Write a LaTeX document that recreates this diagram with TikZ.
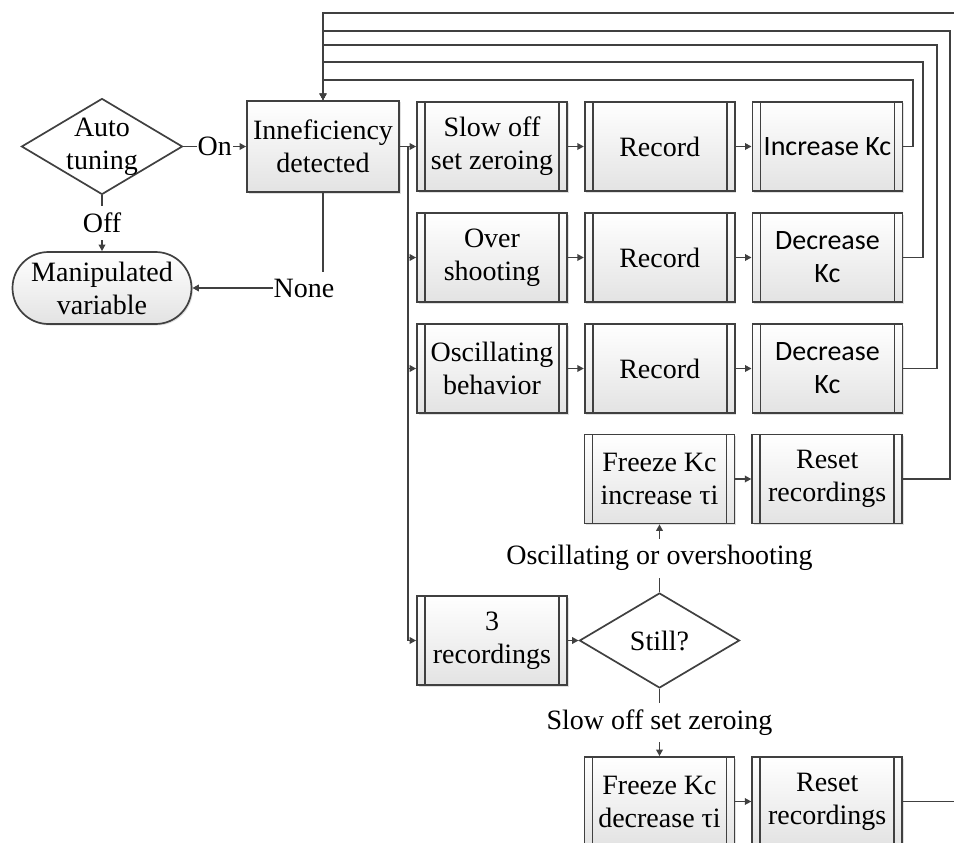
\documentclass[tikz,border=0pt]{standalone}
\usepackage{fontspec}
\setmainfont{Liberation Serif}
\newfontfamily\calibri{Carlito}
\usepackage{tikz}
\usetikzlibrary{arrows.meta}
\usetikzlibrary{positioning}
\usetikzlibrary{shapes.geometric}
\usetikzlibrary{shadows}
\definecolor{linegray}{HTML}{404040}
\colorlet{boxshade}{black!11}
\newcommand\bigfont{\fontsize{28pt}{33pt}\selectfont}
\tikzstyle{flowhead}=[>/.tip={Triangle[length=6.5pt,width=6.5pt]}]
\tikzstyle{flow}=[line width=1.7pt,draw=linegray,flowhead,->]
\tikzstyle{tag}=[fill=white,inner xsep=1pt,inner ysep=7pt]
\tikzstyle{plainbox}=[rectangle,draw=linegray,line width=1.7pt,top color=white,bottom color=boxshade,align=center,inner sep=0pt,
  drop shadow={shadow xshift=1.5pt,shadow yshift=-1.5pt,opacity=.2,fill=black!60}]
\tikzstyle{procbox}=[plainbox,minimum width=150pt,minimum height=89pt,
  path picture={\draw[line width=1.7pt,linegray]
    ([xshift=8pt]path picture bounding box.north west) -- ([xshift=8pt]path picture bounding box.south west)
    ([xshift=-8pt]path picture bounding box.north east) -- ([xshift=-8pt]path picture bounding box.south east);}]
\tikzstyle{kcbox}=[procbox,font=\calibri\bigfont]
\tikzstyle{decision}=[diamond,draw=linegray,line width=1.7pt,fill=white,inner sep=0pt]

\begin{document}
\begin{tikzpicture}[x=1pt,y=-1pt,font=\bigfont]
	\useasboundingbox (0,0) rectangle (954,843);
	\clip (0,0) rectangle (954,843);
	% left part
	\node[decision,minimum width=161pt,minimum height=96pt] (tune) at (102,146.5) {};
	\node[align=center] (tunetext) at (tune) {Auto\\tuning};
	\node[plainbox,minimum width=152pt,minimum height=91pt] (inn) at (323,146.5) {Inneficiency\\detected};
	\node[plainbox,rounded corners=36pt,minimum width=179pt,minimum height=72pt] (man) at (102,288) {Manipulated\\variable};
	% rows
	\node[procbox] (slow) at (492,146.5) {Slow off\\set zeroing};
	\node[procbox,right=16pt of slow] (rec1) {Record};
	\node[kcbox,right=16pt of rec1] (inc1) {Increase Kc};
	\node[procbox] (over) at (492,257.5) {Over\\shooting};
	\node[procbox,right=16pt of over] (rec2) {Record};
	\node[kcbox,right=16pt of rec2] (dec2) {Decrease\\Kc};
	\node[procbox] (osc) at (492,368.5) {Oscillating\\behavior};
	\node[procbox,right=16pt of osc] (rec3) {Record};
	\node[kcbox,right=16pt of rec3] (dec3) {Decrease\\Kc};
	\node[procbox] (frz1) at (659.5,479) {Freeze Kc\\increase τi};
	\node[procbox,right=16pt of frz1] (rst1) {Reset\\recordings};
	\node[procbox] (three) at (492,640.5) {3\\recordings};
	\node[decision,minimum width=160pt,minimum height=95pt] (still) at (659.5,640.5) {Still?};
	\node[procbox] (frz2) at (659.5,801.5) {Freeze Kc\\decrease τi};
	\node[procbox,right=16pt of frz2] (rst2) {Reset\\recordings};
	\coordinate (bus) at (408,146.5);
	% connectors
	\draw[flow] (tune.east) -- node[tag]{On} (inn.west);
	\draw[flow] (tune.south) -- node[tag]{Off} (man.north);
	\draw[flow] (inn.south) |- node[tag,pos=.5,xshift=-19pt]{None} (man.east);
	\draw[flow] (inn) -- (slow);
	\draw[flow] (bus) |- (over.west);
	\draw[flow] (bus) |- (osc.west);
	\draw[flow] (bus) |- (three.west);
	\draw[flow] (slow) -- (rec1);
	\draw[flow] (rec1) -- (inc1);
	\draw[flow] (over) -- (rec2);
	\draw[flow] (rec2) -- (dec2);
	\draw[flow] (osc) -- (rec3);
	\draw[flow] (rec3) -- (dec3);
	\draw[flow] (frz1) -- (rst1);
	\draw[flow] (three) -- (still);
	\draw[flow] (still.north) -- node[tag]{Oscillating or overshooting} (frz1.south);
	\draw[flow] (still.south) -- node[tag]{Slow off set zeroing} (frz2.north);
	\draw[flow] (frz2) -- (rst2);
	% feedback to the detection box
	\draw[flow] (inc1.east) -- ++(10,0) |- ([yshift=20pt]inn.north) -- (inn.north);
	\draw[flow] (dec2.east) -- ++(20,0) |- ([yshift=38pt]inn.north) -- (inn.north);
	\draw[flow] (dec3.east) -- ++(34,0) |- ([yshift=55pt]inn.north) -- (inn.north);
	\draw[flow] (rst1.east) -- ++(47,0) |- ([yshift=69pt]inn.north) -- (inn.north);
	\draw[flow] (rst2.east) -- ++(60,0) |- ([yshift=87pt]inn.north) -- (inn.north);
\end{tikzpicture}
\end{document}
